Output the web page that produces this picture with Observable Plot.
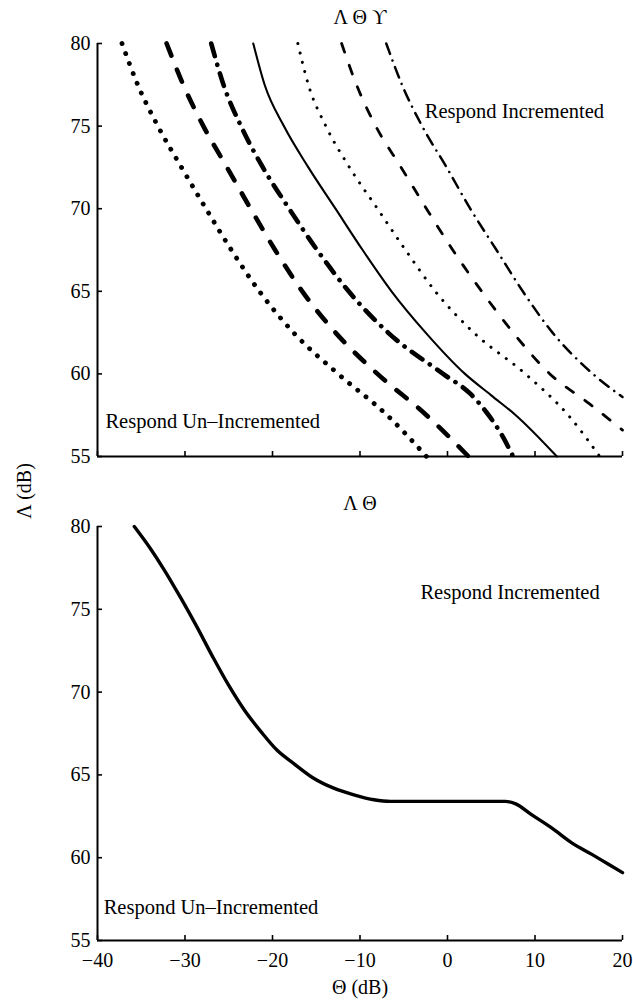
<!DOCTYPE html>
<html><head><meta charset="utf-8">
<script src="https://cdn.jsdelivr.net/npm/d3@7"></script>
<script src="https://cdn.jsdelivr.net/npm/@observablehq/plot@0.6"></script>
<style>
body{margin:0;background:#fff;}
#wrap{position:relative;width:633px;height:1005px;font-family:"Liberation Serif",serif;color:#000;}
#ylab{position:absolute;left:24px;top:491px;transform:translate(-50%,-50%) rotate(-90deg);font-size:20px;white-space:nowrap;font-family:"Liberation Serif",serif;}
svg{display:block;}
svg text{font-family:"Liberation Serif",serif;}
</style></head><body>
<div id="wrap"><div id="topPanel"></div><div id="botPanel"></div><div id="ylab">Λ (dB)</div></div>
<script>
// ---- data ----
const xTicks = [-40, -30, -20, -10, 0, 10, 20];
const yTicks = [55, 60, 65, 70, 75, 80];
const topTitle = "Λ Θ ϒ";
const bottomTitle = "Λ Θ";
const xLabel = "Θ (dB)";
const labelInc = "Respond Incremented";
const labelUninc = "Respond Un–Incremented";

// top panel (Θ, Λ) pairs, left to right
const thickDotted  = [[-37.2,80],[-35.4,77.5],[-33.1,75],[-30.4,72.5],[-27.6,70],[-24.7,67.5],[-21.5,65],[-17.6,62.5],[-12.5,60],[-6.9,57.5],[-2.4,55]];
const thickDashed  = [[-32.1,80],[-30.2,77.5],[-27.9,75],[-25.2,72.5],[-22.5,70],[-19.7,67.5],[-16.6,65],[-12.8,62.5],[-8.0,60],[-2.4,57.5],[2.4,55]];
const thickDashDot = [[-27.0,80],[-25.6,77.5],[-23.6,75],[-21.1,72.5],[-18.1,70],[-14.9,67.5],[-11.3,65],[-6.8,62.5],[-0.5,60],[2.6,58.8],[4.7,57.5],[6.1,56.4],[7.5,55]];
const thinSolid    = [[-22.2,80],[-20.9,77.5],[-18.7,75],[-15.9,72.5],[-12.8,70],[-9.7,67.5],[-6.4,65],[-2.5,62.5],[2.0,60],[5.0,58.7],[7.8,57.5],[12.5,55]];
const thinDotted   = [[-17.1,80],[-15.9,77.5],[-13.9,75],[-11.2,72.5],[-8.0,70],[-4.8,67.5],[-1.4,65],[3.0,62.5],[8.9,60],[13.8,57.5],[17.4,55]];
const thinDashed   = [[-12.1,80],[-10.4,77.5],[-8.2,75],[-5.3,72.5],[-2.4,70],[0.6,67.5],[3.9,65],[7.5,62.5],[11.7,60],[16.2,58.2],[20,56.6]];
const thinDashDot  = [[-7.0,80],[-5.2,77.5],[-2.9,75],[-0.1,72.5],[2.6,70],[5.6,67.5],[8.6,65],[12.0,62.5],[16.4,60.1],[20,58.6]];

// bottom panel
const bottomCurve = [[-35.8,80],[-34.0,78.7],[-32.4,77.4],[-30.5,75.7],[-28.7,74.0],[-26.8,72.1],[-25.0,70.4],[-23.2,68.9],[-21.3,67.6],[-19.5,66.5],[-17.6,65.7],[-15.3,64.8],[-13.0,64.2],[-10.7,63.8],[-8.4,63.5],[-6.5,63.4],[-0.1,63.4],[6.6,63.4],[7.8,63.25],[9.6,62.6],[11.9,61.8],[14.2,60.9],[16.5,60.2],[18.4,59.6],[20,59.1]];

// ---- styles ----
const topSeries = [
  {data: thickDotted,  w: 4.8, dash: "0.1 10.5"},
  {data: thickDashed,  w: 4.6, dash: "13 15"},
  {data: thickDashDot, w: 4.6, dash: "13 9 0.1 9"},
  {data: thinSolid,    w: 2.1, dash: null},
  {data: thinDotted,   w: 3.0, dash: "0.1 9.5"},
  {data: thinDashed,   w: 2.8, dash: "9 14"},
  {data: thinDashDot,  w: 2.5, dash: "11 7 0.1 7"}
];

const FONT = "'Liberation Serif', 'Times New Roman', serif";
const common = {
  width: 633, marginLeft: 97, marginRight: 11,
  x: {domain: [-40, 20]}, y: {domain: [55, 80]},
  style: {fontFamily: FONT, fontSize: "20px", color: "black", background: "white", overflow: "visible"}
};
const lineOf = (arr, o) => Plot.line(arr, {x: d => d[0], y: d => d[1], curve: "monotone-x", stroke: "black", strokeLinecap: "round", strokeLinejoin: "round", ...o});
const txt = {fontFamily: FONT, fill: "black"};

const topChart = Plot.plot({
  ...common, height: 478, marginTop: 43, marginBottom: 22,
  marks: [
    Plot.axisY(yTicks, {tickSize: -5, tickPadding: 12, label: null, fontSize: 20, strokeWidth: 1.6, ...txt}),
    Plot.axisX(xTicks, {tickSize: -5, tickFormat: () => "", label: null, strokeWidth: 1.6}),
    Plot.ruleX([-40], {strokeWidth: 2}),
    Plot.ruleY([55], {strokeWidth: 2}),
    ...topSeries.map(s => lineOf(s.data, {strokeWidth: s.w, strokeDasharray: s.dash})),
    Plot.text([topTitle], {text: d => d, frameAnchor: "top", dy: -26, fontSize: 20, lineAnchor: "middle", ...txt}),
    Plot.text([labelInc], {text: d => d, x: -2.6, y: 75.9, textAnchor: "start", fontSize: 20.5, lineAnchor: "middle", ...txt}),
    Plot.text([labelUninc], {text: d => d, x: -39.1, y: 57.1, textAnchor: "start", fontSize: 20.5, lineAnchor: "middle", ...txt})
  ]
});
document.getElementById("topPanel").appendChild(topChart);

const botChart = Plot.plot({
  ...common, height: 527, marginTop: 48, marginBottom: 65,
  marks: [
    Plot.axisY(yTicks, {tickSize: -5, tickPadding: 12, label: null, fontSize: 20, strokeWidth: 1.6, ...txt}),
    Plot.axisX(xTicks, {tickSize: -5, tickPadding: 17, label: null, fontSize: 20, strokeWidth: 1.6, ...txt}),
    Plot.ruleX([-40], {strokeWidth: 2}),
    Plot.ruleY([55], {strokeWidth: 2}),
    lineOf(bottomCurve, {strokeWidth: 3.4}),
    Plot.text([bottomTitle], {text: d => d, frameAnchor: "top", dy: -23, fontSize: 20, lineAnchor: "middle", ...txt}),
    Plot.text([xLabel], {text: d => d, frameAnchor: "bottom", dy: 47, fontSize: 20, lineAnchor: "middle", ...txt}),
    Plot.text([labelInc], {text: d => d, x: -3.1, y: 76.0, textAnchor: "start", fontSize: 20.5, lineAnchor: "middle", ...txt}),
    Plot.text([labelUninc], {text: d => d, x: -39.3, y: 57.0, textAnchor: "start", fontSize: 20.5, lineAnchor: "middle", ...txt})
  ]
});
document.getElementById("botPanel").appendChild(botChart);
</script>
</body></html>
